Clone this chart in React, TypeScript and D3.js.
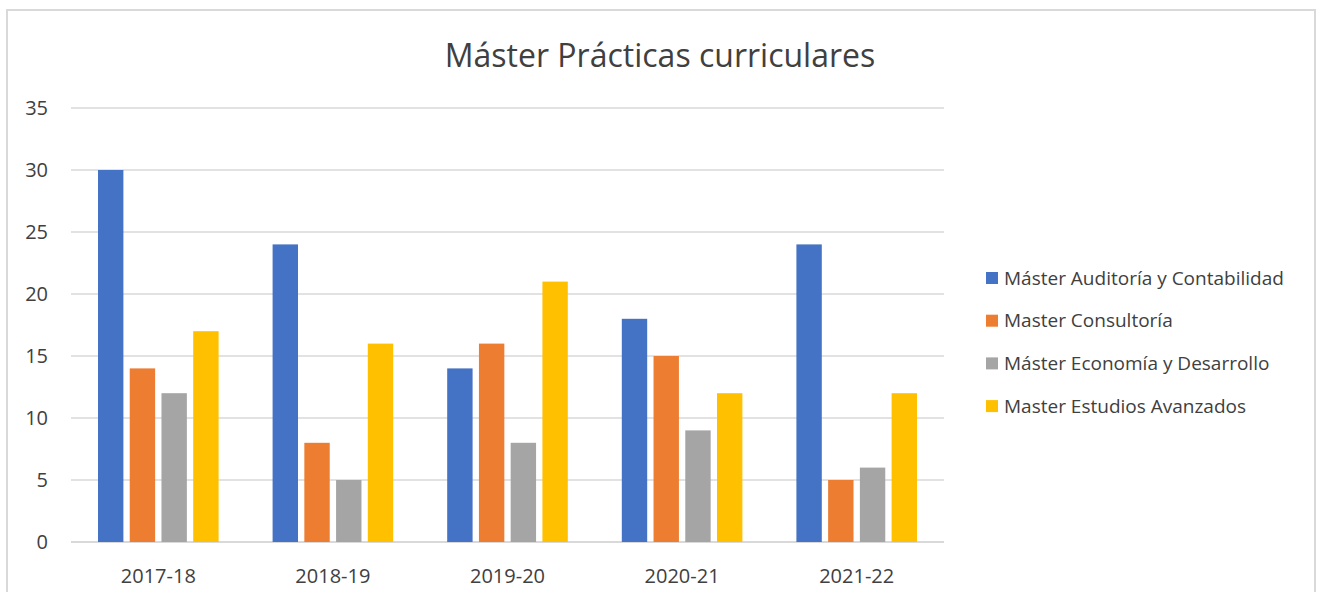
import React, { useEffect, useRef } from 'react';
import * as d3 from 'd3';

const years = ['2017-18', '2018-19', '2019-20', '2020-21', '2021-22'];
const seriesNames = [
  'Máster Auditoría y Contabilidad',
  'Master Consultoría',
  'Máster Economía y Desarrollo',
  'Master Estudios Avanzados',
];
const auditoria = [30, 24, 14, 18, 24];
const consultoria = [14, 8, 16, 15, 5];
const economia = [12, 5, 8, 9, 6];
const estudios = [17, 16, 21, 12, 12];
const yTicks = [0, 5, 10, 15, 20, 25, 30, 35];
const colors = ['#4472C4', '#ED7D31', '#A5A5A5', '#FFC000'];

const App = () => {
  const ref = useRef<SVGSVGElement>(null);

  useEffect(() => {
    const plot = { left: 71, right: 944, top: 108, bottom: 542 };
    const font = '"Open Sans", Lato, sans-serif';
    const values = [auditoria, consultoria, economia, estudios];

    const svg = d3.select(ref.current);
    svg.selectAll('*').remove();

    // outer frame
    svg.append('rect')
      .attr('x', 7).attr('y', 10)
      .attr('width', 1308).attr('height', 600)
      .attr('fill', '#fff')
      .attr('stroke', '#d9d9d9')
      .attr('stroke-width', 2);

    svg.append('text')
      .attr('x', 660).attr('y', 67)
      .attr('text-anchor', 'middle')
      .attr('font-family', font)
      .attr('font-size', 32)
      .attr('fill', '#404040')
      .text('Máster Prácticas curriculares');

    const x0 = d3.scaleBand<string>()
      .domain(years)
      .range([plot.left, plot.right])
      .padding(0);

    const x1 = d3.scaleBand<string>()
      .domain(seriesNames)
      .range([27, x0.bandwidth() - 27])
      .paddingInner(0.2);

    const y = d3.scaleLinear()
      .domain([0, 35])
      .range([plot.bottom, plot.top]);

    // gridlines
    svg.append('g')
      .selectAll('line')
      .data(yTicks)
      .enter().append('line')
      .attr('x1', plot.left).attr('x2', plot.right)
      .attr('y1', d => y(d)).attr('y2', d => y(d))
      .attr('stroke', '#d9d9d9')
      .attr('stroke-width', d => (d === 0 ? 2 : 1.5));

    // y labels
    svg.append('g')
      .selectAll('text')
      .data(yTicks)
      .enter().append('text')
      .attr('x', 48)
      .attr('y', d => y(d) + 7)
      .attr('text-anchor', 'end')
      .attr('font-family', font)
      .attr('font-size', 20)
      .attr('fill', '#404040')
      .text(d => d);

    // bars
    const groups = svg.append('g')
      .selectAll('g')
      .data(years)
      .enter().append('g')
      .attr('transform', d => 'translate(' + x0(d) + ',0)');

    groups.selectAll('rect')
      .data((_, i) => seriesNames.map((s, k) => ({ s, k, v: values[k][i] })))
      .enter().append('rect')
      .attr('x', d => x1(d.s) as number)
      .attr('width', x1.bandwidth())
      .attr('y', d => y(d.v))
      .attr('height', d => plot.bottom - y(d.v))
      .attr('fill', d => colors[d.k]);

    // x labels
    svg.append('g')
      .selectAll('text')
      .data(years)
      .enter().append('text')
      .attr('x', d => (x0(d) as number) + x0.bandwidth() / 2)
      .attr('y', 583)
      .attr('text-anchor', 'middle')
      .attr('font-family', font)
      .attr('font-size', 20)
      .attr('fill', '#404040')
      .text(d => d);

    // legend
    const legend = svg.append('g')
      .selectAll('g')
      .data(seriesNames)
      .enter().append('g')
      .attr('transform', (_, i) => 'translate(986,' + (278 + i * 42.7) + ')');

    legend.append('rect')
      .attr('x', 0).attr('y', -6)
      .attr('width', 12).attr('height', 12)
      .attr('fill', (_, i) => colors[i]);

    legend.append('text')
      .attr('x', 18).attr('y', 6.5)
      .attr('font-family', font)
      .attr('font-size', 19)
      .attr('fill', '#404040')
      .text(d => d);
  }, []);

  return (
    <svg
      ref={ref}
      width={1318}
      height={592}
      style={{ position: 'absolute', left: 0, top: 0, background: '#fff' }}
    />
  );
};

export default App;
